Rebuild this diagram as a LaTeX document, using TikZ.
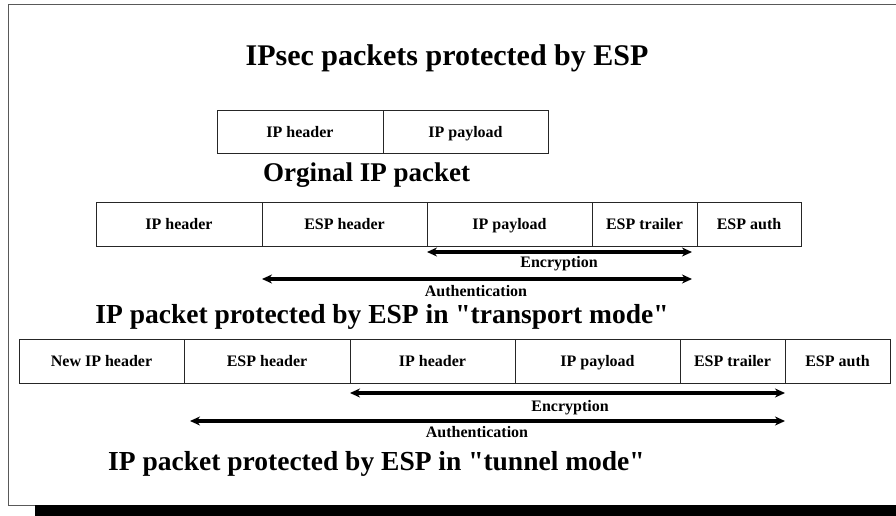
\documentclass[tikz,border=0pt]{standalone}
\usepackage{fontspec}
\setmainfont{Liberation Serif}
\usetikzlibrary{arrows.meta}

\begin{document}
\begin{tikzpicture}[x=1pt, y=-1pt,
    field/.style={draw=black!85, line width=0.9pt, minimum height=44pt, inner sep=0pt,
      text height=11pt, text depth=0pt, font=\bfseries\fontsize{16}{18}\selectfont},
    span/.style={line width=4pt, {Stealth[length=10pt,width=9pt]}-{Stealth[length=10pt,width=9pt]}},
    note/.style={anchor=base, inner sep=0pt, font=\bfseries\fontsize{16}{18}\selectfont},
    caption/.style={anchor=base, inner sep=0pt, font=\bfseries\fontsize{27.5}{30}\selectfont}]
  \useasboundingbox (0,0) rectangle (896,516);
  \clip (0,0) rectangle (896,516);

  \draw[black!65, line width=1pt] (8,5) rectangle (910,505);
  \fill[black] (35,505) rectangle (910,520);

  \node[caption, font=\bfseries\fontsize{30}{34}\selectfont] (title) at (447,66) {IPsec packets protected by ESP};

  % original packet
  \node[field, minimum width=166pt, minimum height=43pt] (o1) at (300,131.5) {IP header};
  \node[field, minimum width=165pt, minimum height=43pt] (o2) at (465.5,131.5) {IP payload};
  \node[caption, font=\bfseries\fontsize{27}{30}\selectfont] (ocap) at (366.5,181) {Orginal IP packet};

  % transport mode
  \node[field, minimum width=166pt] (t1) at (179,224) {IP header};
  \node[field, minimum width=165pt] (t2) at (344.5,224) {ESP header};
  \node[field, minimum width=165pt] (t3) at (509.5,224) {IP payload};
  \node[field, minimum width=105pt] (t4) at (644.5,224) {ESP trailer};
  \node[field, minimum width=104pt] (t5) at (749,224) {ESP auth};

  \coordinate (te1) at (427,252);
  \coordinate (te2) at (692,252);
  \coordinate (ta1) at (262,279);
  \coordinate (ta2) at (692,279);
  \draw[span] (te1) -- (te2);
  \draw[span] (ta1) -- (ta2);
  \node[note] (tenc) at (559,267) {Encryption};
  \node[note] (tauth) at (476,296) {Authentication};
  \node[caption] (tcap) at (382,323) {IP packet protected by ESP in \textquotedbl transport mode\textquotedbl};

  % tunnel mode
  \node[field, minimum width=165pt] (n1) at (101.5,361) {New IP header};
  \node[field, minimum width=166pt] (n2) at (267,361) {ESP header};
  \node[field, minimum width=165pt] (n3) at (432.5,361) {IP header};
  \node[field, minimum width=165pt] (n4) at (597.5,361) {IP payload};
  \node[field, minimum width=105pt] (n5) at (732.5,361) {ESP trailer};
  \node[field, minimum width=105pt] (n6) at (837.5,361) {ESP auth};

  \coordinate (ne1) at (350,393);
  \coordinate (ne2) at (785,393);
  \coordinate (na1) at (190,421);
  \coordinate (na2) at (785,421);
  \draw[span] (ne1) -- (ne2);
  \draw[span] (na1) -- (na2);
  \node[note] (nenc) at (570,411) {Encryption};
  \node[note] (nauth) at (477,437) {Authentication};
  \node[caption] (ncap) at (376.5,470) {IP packet protected by ESP in \textquotedbl tunnel mode\textquotedbl};
\end{tikzpicture}
\end{document}
